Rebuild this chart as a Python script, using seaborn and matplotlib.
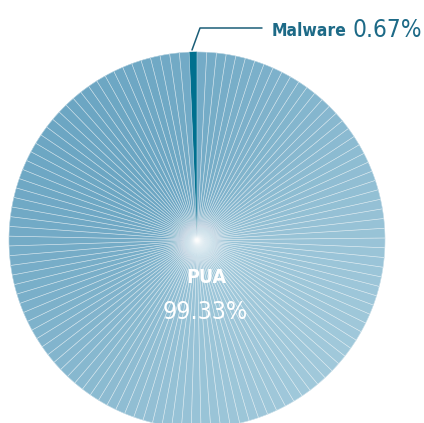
import matplotlib.pyplot as plt
import numpy as np
import seaborn as sns
from matplotlib.colors import to_rgb
from matplotlib.patches import Circle

# data
labels = ["Malware", "PUA"]
shares = [0.67, 99.33]
share_text = ["0.67%", "99.33%"]

sns.set_theme(style="white")
plt.rcParams['font.family'] = ['DejaVu Sans']
plt.rcParams['font.stretch'] = 'condensed'

fig = plt.figure(figsize=(4.24, 4.23), dpi=100)
ax = fig.add_axes([0, 0, 1, 1])

# split the PUA share into thin slices to get the radial line texture
n_sub = 120
sizes = [shares[0]] + [shares[1] / n_sub] * n_sub

dark = np.array(to_rgb("#6ca6c3"))
light = np.array(to_rgb("#a0c8da"))
colors = ["#00708f"]
cum = shares[0]
for i in range(n_sub):
    mid = np.deg2rad(90 + 3.6 * (cum + (i + 0.5) * shares[1] / n_sub))
    t = (1 - np.cos(mid - np.deg2rad(135))) / 2
    colors.append(tuple(dark + (light - dark) * t))

cx, cy, rad = 197, 183, 188
explode = [8 / rad] + [0] * n_sub
pie_kw = dict(startangle=90, counterclock=True, radius=rad, center=(cx, cy),
              explode=explode, frame=True)

# filled slices (edges in own colour to hide seams)
wedges, _ = ax.pie(sizes, colors=colors, wedgeprops=dict(linewidth=0.3), **pie_kw)
for w in wedges:
    w.set_edgecolor(w.get_facecolor())

# thin white radial lines on top
lines, _ = ax.pie(sizes, colors=["none"] * len(sizes),
                  wedgeprops=dict(edgecolor=(1, 1, 1, 0.4), linewidth=0.45), **pie_kw)
lines[0].set_edgecolor("none")

# soft glow in the middle
for r in np.linspace(32, 2, 16):
    ax.add_patch(Circle((cx, cy), r, color="white", alpha=0.02, lw=0))

ax.set_xlim(0, 424)
ax.set_ylim(0, 423)
ax.set_aspect("equal")
ax.axis("off")

# labels
ax.text(206, 140, labels[1], color="white", fontsize=14, fontweight="bold",
        ha="center", va="baseline")
ax.text(205, 104, share_text[1], color="white", fontsize=18,
        ha="center", va="baseline")

ax.plot([192, 200, 262], [373, 395, 395], color="#1b5e78", lw=1.1)
ax.text(272, 387, labels[0], color="#1d6a87", fontsize=12.5, fontweight="bold",
        ha="left", va="baseline")
ax.text(352, 386, share_text[0], color="#1d6a87", fontsize=17.5,
        ha="left", va="baseline")

plt.savefig("out.png", dpi=100)
